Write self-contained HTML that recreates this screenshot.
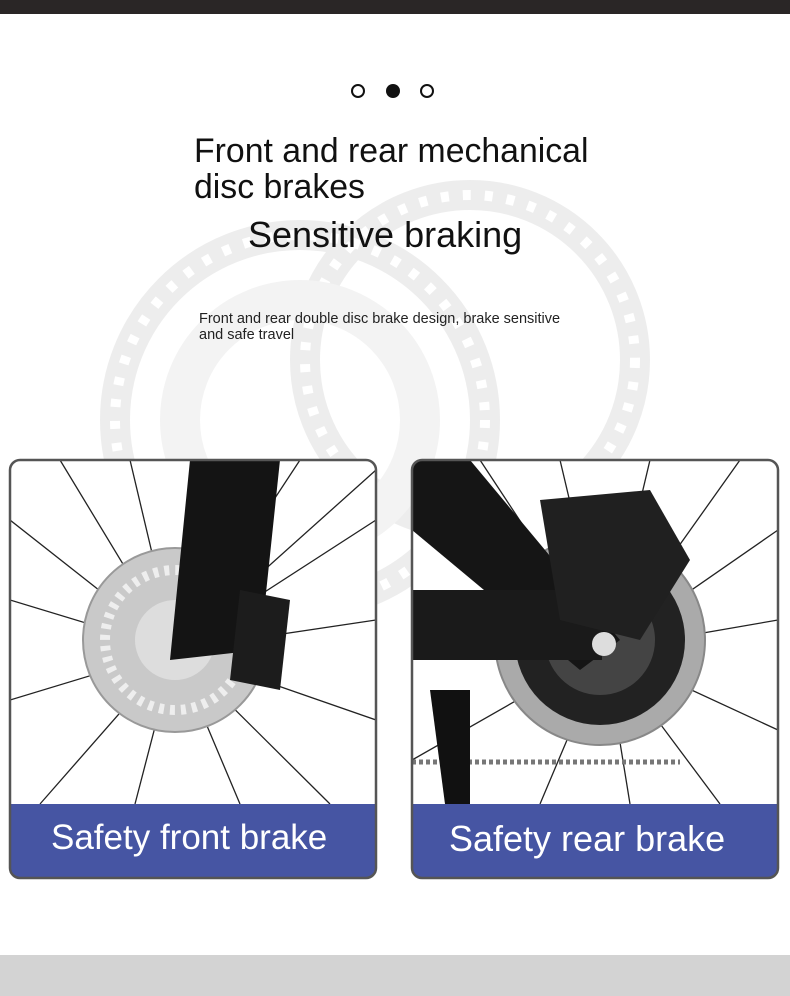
<!DOCTYPE html>
<html><head><meta charset="utf-8"><style>
html,body{margin:0;padding:0;background:#fff;}
body{width:790px;height:996px;position:relative;overflow:hidden;font-family:"Liberation Sans",sans-serif;}
.t{position:absolute;color:#111;white-space:nowrap;}
</style></head><body>
<svg width="790" height="996" style="position:absolute;left:0;top:0">
<defs>
<clipPath id="cl"><rect x="10" y="460" width="366" height="418" rx="10"/></clipPath>
<clipPath id="cr"><rect x="412" y="460" width="366" height="418" rx="10"/></clipPath>
</defs>
<rect x="0" y="0" width="790" height="14" fill="#2a2626"/>
<g fill="none" stroke="#ededed" stroke-width="30">
<circle cx="300" cy="420" r="185"/>
<circle cx="470" cy="360" r="165"/>
</g>
<g fill="none" stroke="#fff" stroke-width="10" stroke-dasharray="8 14">
<circle cx="300" cy="420" r="185"/>
<circle cx="470" cy="360" r="165"/>
</g>
<g fill="none" stroke="#f3f3f3" stroke-width="40"><circle cx="300" cy="420" r="120"/></g>
<circle cx="358" cy="91" r="6" fill="none" stroke="#111" stroke-width="2"/>
<circle cx="393" cy="91" r="7" fill="#111"/>
<circle cx="427" cy="91" r="6" fill="none" stroke="#111" stroke-width="2"/>
<g clip-path="url(#cl)">
<rect x="10" y="460" width="366" height="418" fill="#fff"/>
<g stroke="#222" stroke-width="1.3">
<line x1="175" y1="650" x2="10" y2="520"/><line x1="175" y1="650" x2="60" y2="460"/>
<line x1="175" y1="650" x2="130" y2="460"/><line x1="175" y1="650" x2="300" y2="460"/>
<line x1="175" y1="650" x2="376" y2="520"/><line x1="175" y1="650" x2="376" y2="620"/>
<line x1="175" y1="650" x2="376" y2="720"/><line x1="175" y1="650" x2="330" y2="804"/>
<line x1="175" y1="650" x2="240" y2="804"/><line x1="175" y1="650" x2="135" y2="804"/>
<line x1="175" y1="650" x2="40" y2="804"/><line x1="175" y1="650" x2="10" y2="700"/>
<line x1="175" y1="650" x2="10" y2="600"/><line x1="175" y1="650" x2="376" y2="470"/>
</g>
<circle cx="175" cy="640" r="92" fill="#c9c9c9" stroke="#999" stroke-width="2"/>
<circle cx="175" cy="640" r="70" fill="none" stroke="#eee" stroke-width="10" stroke-dasharray="5 6"/>
<circle cx="175" cy="640" r="40" fill="#ddd"/>
<path d="M190 460 L280 460 L260 650 L170 660 Z" fill="#141414"/>
<path d="M240 590 L290 600 L280 690 L230 680 Z" fill="#1c1c1c"/>
<rect x="10" y="804" width="366" height="76" fill="#4655a3"/>
</g>
<rect x="10" y="460" width="366" height="418" rx="10" fill="none" stroke="#555" stroke-width="2.5"/>
<g clip-path="url(#cr)">
<rect x="412" y="460" width="366" height="418" fill="#fff"/>
<g stroke="#222" stroke-width="1.3">
<line x1="605" y1="650" x2="480" y2="460"/><line x1="605" y1="650" x2="560" y2="460"/>
<line x1="605" y1="650" x2="650" y2="460"/><line x1="605" y1="650" x2="740" y2="460"/>
<line x1="605" y1="650" x2="778" y2="530"/><line x1="605" y1="650" x2="778" y2="620"/>
<line x1="605" y1="650" x2="778" y2="730"/><line x1="605" y1="650" x2="720" y2="804"/>
<line x1="605" y1="650" x2="630" y2="804"/><line x1="605" y1="650" x2="540" y2="804"/>
<line x1="605" y1="650" x2="412" y2="760"/>
</g>
<circle cx="600" cy="640" r="105" fill="#aaa" stroke="#888" stroke-width="2"/>
<circle cx="600" cy="640" r="85" fill="#222"/>
<circle cx="600" cy="640" r="55" fill="#444"/>
<path d="M412 460 L470 460 L620 640 L580 670 L412 530 Z" fill="#151515"/>
<rect x="412" y="590" width="190" height="70" fill="#1a1a1a"/>
<path d="M540 500 L650 490 L690 560 L640 640 L560 620 Z" fill="#202020"/>
<circle cx="604" cy="644" r="12" fill="#ddd"/>
<line x1="412" y1="762" x2="680" y2="762" stroke="#777" stroke-width="5" stroke-dasharray="4 3"/>
<path d="M430 690 L470 690 L470 804 L445 804 Z" fill="#111"/>
<rect x="412" y="804" width="366" height="76" fill="#4655a3"/>
</g>
<rect x="412" y="460" width="366" height="418" rx="10" fill="none" stroke="#555" stroke-width="2.5"/>
<rect x="0" y="955" width="790" height="41" fill="#d3d3d3"/>
</svg>
<div class="t" style="left:194px;top:133px;font-size:33.8px;line-height:36px">Front and rear mechanical<br>disc brakes</div>
<div class="t" style="left:248px;top:214px;font-size:36px">Sensitive braking</div>
<div class="t" style="left:199px;top:311px;font-size:14.5px;line-height:16px;color:#222">Front and rear double disc brake design, brake sensitive<br>and safe travel</div>
<div class="t" style="left:51px;top:818px;font-size:35px;color:#fff">Safety front brake</div>
<div class="t" style="left:449px;top:818px;font-size:36px;color:#fff">Safety rear brake</div>
</body></html>
